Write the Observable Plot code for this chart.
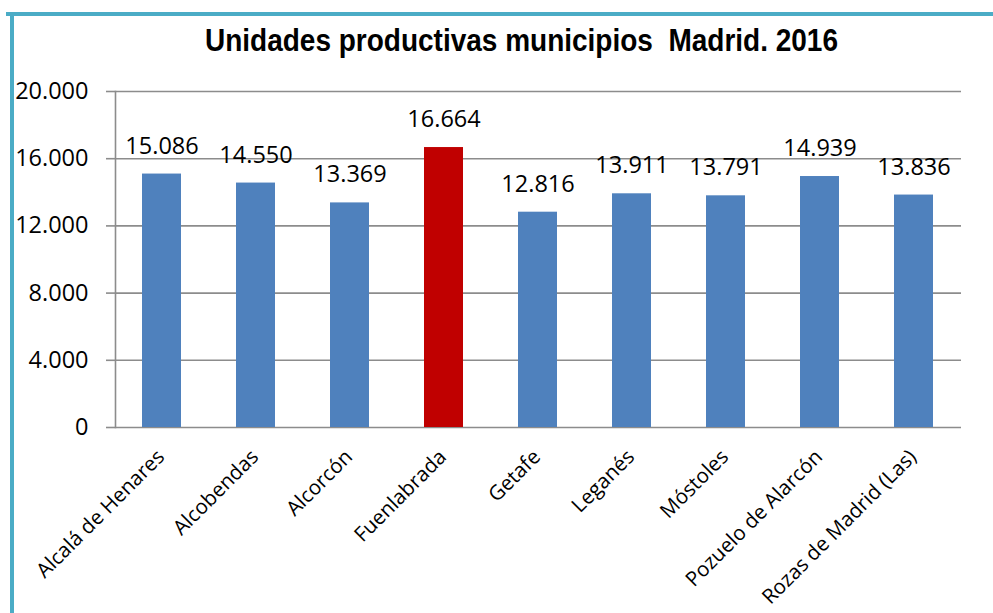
<!DOCTYPE html>
<html>
<head>
<meta charset="utf-8">
<script src="https://cdn.jsdelivr.net/npm/d3@7"></script>
<script src="https://cdn.jsdelivr.net/npm/@observablehq/plot@0.6"></script>
<style>
  html, body { margin: 0; padding: 0; background: #fff; width: 993px; height: 613px; overflow: hidden; }
  #wrap { position: relative; width: 993px; height: 613px; }
  #frameTop { position: absolute; left: 6px; top: 12px; width: 987px; height: 4px; background: #4BACC6; }
  #frameLeft { position: absolute; left: 10px; top: 12px; width: 4px; height: 601px; background: #4BACC6; }
  #title { position: absolute; left: 205px; top: 21px; display: inline-block; transform-origin: 0 0;
           font-family: "Liberation Sans", sans-serif; font-weight: bold;
           font-size: 32px; line-height: 38px; color: #000; white-space: pre; }
  #chart { position: absolute; left: 0; top: 0; }
</style>
</head>
<body>
<div id="wrap">
  <div id="chart"></div>
  <div id="frameTop"></div>
  <div id="frameLeft"></div>
  <div id="title">Unidades productivas municipios  Madrid. 2016</div>
</div>
<script>
const municipios = ["Alcalá de Henares", "Alcobendas", "Alcorcón", "Fuenlabrada", "Getafe", "Leganés", "Móstoles", "Pozuelo de Alarcón", "Rozas de Madrid (Las)"];
const unidades = [15086, 14550, 13369, 16664, 12816, 13911, 13791, 14939, 13836];
const yTicks = [0, 4000, 8000, 12000, 16000, 20000];
const destacado = "Fuenlabrada";

const data = municipios.map((m, i) => ({municipio: m, valor: unidades[i]}));
const fmt = d3.formatLocale({decimal: ",", thousands: ".", grouping: [3], currency: ["", " €"]}).format(",d");
const font = "'Open Sans', sans-serif";

const chart = Plot.plot({
  width: 993,
  height: 613,
  marginLeft: 115,
  marginRight: 32,
  marginTop: 91,
  marginBottom: 186,
  style: {background: "transparent", fontFamily: font, color: "#000"},
  x: {domain: municipios, paddingInner: 0.585, paddingOuter: 0.2925, axis: null},
  y: {domain: [0, 20000], axis: null},
  marks: [
    Plot.ruleY(yTicks, {stroke: "#8c8c8c", strokeWidth: 1.6, strokeOpacity: 1}),
    Plot.axisY({ticks: yTicks, tickSize: 9, tickPadding: 18, tickFormat: fmt, fontSize: 23.5, stroke: "#8c8c8c", strokeWidth: 1.6, strokeOpacity: 1, fill: "#000", label: null}),
    Plot.frame({anchor: "left", stroke: "#8c8c8c", strokeWidth: 1.6}),
    Plot.barY(data, {x: "municipio", y: "valor", fill: d => d.municipio === destacado ? "#C00000" : "#4F81BD"}),
    Plot.text(data, {x: "municipio", y: "valor", text: d => fmt(d.valor), dy: -28, lineAnchor: "middle", fontSize: 23.5, fill: "#000"}),
    Plot.text(data, {x: "municipio", y: () => 0, text: "municipio", rotate: -45, textAnchor: "end", lineAnchor: "middle", dx: -1, dy: 26, fontSize: 20.5, fill: "#000"})
  ]
});
document.getElementById("chart").appendChild(chart);

const t = document.getElementById("title");
const w = t.getBoundingClientRect().width;
t.style.transform = `scaleX(${633 / w})`;
</script>
</body>
</html>
